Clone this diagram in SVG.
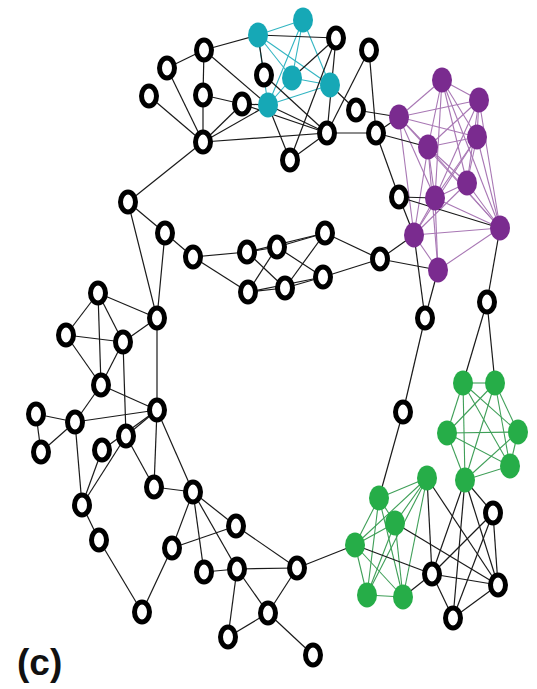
<svg xmlns="http://www.w3.org/2000/svg" width="537" height="689" viewBox="0 0 537 689">
<style>
.e{stroke:#1a1a1a;stroke-width:1.2;fill:none}
.ep{stroke:#a877b4;stroke-width:1.1}
.ec{stroke:#33b5c2;stroke-width:1.1}
.eg{stroke:#3f9f58;stroke-width:1.1}
.b{fill:#fff;stroke:#000;stroke-width:5}
.p{fill:#7a2b8f}
.c{fill:#16a8b6}
.g{fill:#26ad48}
.lab{font-family:"Liberation Sans",Arial,sans-serif;font-weight:bold;font-size:37px;fill:#111}
</style>
<rect width="537" height="689" fill="#fff"/>
<g id="edges">
<!-- cyan clique -->
<line class="ec" x1="258" y1="35" x2="303" y2="20"/><line class="ec" x1="258" y1="35" x2="292" y2="78"/><line class="ec" x1="258" y1="35" x2="330" y2="85"/><line class="ec" x1="258" y1="35" x2="268" y2="105"/>
<line class="ec" x1="303" y1="20" x2="292" y2="78"/><line class="ec" x1="303" y1="20" x2="330" y2="85"/><line class="ec" x1="303" y1="20" x2="268" y2="105"/>
<line class="ec" x1="292" y1="78" x2="330" y2="85"/><line class="ec" x1="292" y1="78" x2="268" y2="105"/><line class="ec" x1="330" y1="85" x2="268" y2="105"/>
<!-- purple -->
<line class="ep" x1="442" y1="80" x2="479" y2="100"/><line class="ep" x1="442" y1="80" x2="399" y2="117"/><line class="ep" x1="442" y1="80" x2="477" y2="137"/><line class="ep" x1="442" y1="80" x2="428" y2="147"/><line class="ep" x1="442" y1="80" x2="467" y2="183"/><line class="ep" x1="442" y1="80" x2="435" y2="198"/><line class="ep" x1="442" y1="80" x2="500" y2="228"/>
<line class="ep" x1="479" y1="100" x2="399" y2="117"/><line class="ep" x1="479" y1="100" x2="477" y2="137"/><line class="ep" x1="479" y1="100" x2="428" y2="147"/><line class="ep" x1="479" y1="100" x2="467" y2="183"/><line class="ep" x1="479" y1="100" x2="435" y2="198"/><line class="ep" x1="479" y1="100" x2="500" y2="228"/>
<line class="ep" x1="399" y1="117" x2="477" y2="137"/><line class="ep" x1="399" y1="117" x2="428" y2="147"/><line class="ep" x1="399" y1="117" x2="435" y2="198"/><line class="ep" x1="399" y1="117" x2="500" y2="228"/><line class="ep" x1="399" y1="117" x2="414" y2="235"/>
<line class="ep" x1="477" y1="137" x2="428" y2="147"/><line class="ep" x1="477" y1="137" x2="467" y2="183"/><line class="ep" x1="477" y1="137" x2="435" y2="198"/><line class="ep" x1="477" y1="137" x2="500" y2="228"/><line class="ep" x1="477" y1="137" x2="414" y2="235"/>
<line class="ep" x1="428" y1="147" x2="467" y2="183"/><line class="ep" x1="428" y1="147" x2="435" y2="198"/><line class="ep" x1="428" y1="147" x2="500" y2="228"/><line class="ep" x1="428" y1="147" x2="414" y2="235"/><line class="ep" x1="428" y1="147" x2="438" y2="270"/>
<line class="ep" x1="467" y1="183" x2="435" y2="198"/><line class="ep" x1="467" y1="183" x2="500" y2="228"/><line class="ep" x1="467" y1="183" x2="414" y2="235"/>
<line class="ep" x1="435" y1="198" x2="500" y2="228"/><line class="ep" x1="435" y1="198" x2="414" y2="235"/><line class="ep" x1="435" y1="198" x2="438" y2="270"/>
<line class="ep" x1="500" y1="228" x2="414" y2="235"/><line class="ep" x1="500" y1="228" x2="438" y2="270"/><line class="ep" x1="414" y1="235" x2="438" y2="270"/>
<!-- green upper -->
<line class="eg" x1="463" y1="383" x2="495" y2="383"/><line class="eg" x1="463" y1="383" x2="447" y2="433"/><line class="eg" x1="463" y1="383" x2="518" y2="432"/><line class="eg" x1="463" y1="383" x2="510" y2="466"/><line class="eg" x1="463" y1="383" x2="465" y2="480"/>
<line class="eg" x1="495" y1="383" x2="447" y2="433"/><line class="eg" x1="495" y1="383" x2="518" y2="432"/><line class="eg" x1="495" y1="383" x2="510" y2="466"/><line class="eg" x1="495" y1="383" x2="465" y2="480"/>
<line class="eg" x1="447" y1="433" x2="518" y2="432"/><line class="eg" x1="447" y1="433" x2="510" y2="466"/><line class="eg" x1="447" y1="433" x2="465" y2="480"/>
<line class="eg" x1="518" y1="432" x2="510" y2="466"/><line class="eg" x1="518" y1="432" x2="465" y2="480"/><line class="eg" x1="510" y1="466" x2="465" y2="480"/>
<!-- green lower -->
<line class="eg" x1="427" y1="478" x2="379" y2="498"/><line class="eg" x1="427" y1="478" x2="395" y2="523"/><line class="eg" x1="427" y1="478" x2="355" y2="545"/><line class="eg" x1="427" y1="478" x2="367" y2="595"/><line class="eg" x1="427" y1="478" x2="403" y2="597"/>
<line class="eg" x1="379" y1="498" x2="395" y2="523"/><line class="eg" x1="379" y1="498" x2="355" y2="545"/><line class="eg" x1="379" y1="498" x2="367" y2="595"/><line class="eg" x1="379" y1="498" x2="403" y2="597"/>
<line class="eg" x1="395" y1="523" x2="355" y2="545"/><line class="eg" x1="395" y1="523" x2="367" y2="595"/><line class="eg" x1="395" y1="523" x2="403" y2="597"/>
<line class="eg" x1="355" y1="545" x2="367" y2="595"/><line class="eg" x1="355" y1="545" x2="403" y2="597"/><line class="eg" x1="367" y1="595" x2="403" y2="597"/>
<!-- black edges: top left -->
<line class="e" x1="204" y1="50" x2="167" y2="68"/><line class="e" x1="204" y1="50" x2="203" y2="95"/><line class="e" x1="203" y1="95" x2="203" y2="142"/><line class="e" x1="203" y1="95" x2="242" y2="104"/><line class="e" x1="242" y1="104" x2="203" y2="142"/><line class="e" x1="167" y1="68" x2="203" y2="142"/><line class="e" x1="149" y1="96" x2="203" y2="142"/>
<line class="e" x1="204" y1="50" x2="258" y2="35"/><line class="e" x1="204" y1="50" x2="268" y2="105"/><line class="e" x1="203" y1="142" x2="128" y2="202"/><line class="e" x1="203" y1="142" x2="268" y2="105"/><line class="e" x1="242" y1="104" x2="268" y2="105"/><line class="e" x1="242" y1="104" x2="327" y2="133"/><line class="e" x1="203" y1="142" x2="327" y2="133"/>
<!-- top center -->
<line class="e" x1="258" y1="35" x2="336" y2="38"/><line class="e" x1="264" y1="75" x2="258" y2="35"/><line class="e" x1="264" y1="75" x2="327" y2="133"/><line class="e" x1="336" y1="38" x2="327" y2="133"/><line class="e" x1="336" y1="38" x2="292" y2="78"/><line class="e" x1="336" y1="38" x2="290" y2="160"/>
<line class="e" x1="369" y1="50" x2="376" y2="133"/><line class="e" x1="369" y1="50" x2="327" y2="133"/><line class="e" x1="356" y1="110" x2="330" y2="85"/><line class="e" x1="356" y1="110" x2="399" y2="117"/><line class="e" x1="327" y1="133" x2="376" y2="133"/><line class="e" x1="327" y1="133" x2="268" y2="105"/><line class="e" x1="327" y1="133" x2="290" y2="160"/><line class="e" x1="290" y1="160" x2="268" y2="105"/>
<line class="e" x1="376" y1="133" x2="399" y2="117"/><line class="e" x1="376" y1="133" x2="399" y2="197"/><line class="e" x1="376" y1="133" x2="428" y2="147"/>
<!-- to purple -->
<line class="e" x1="399" y1="197" x2="435" y2="198"/><line class="e" x1="399" y1="197" x2="500" y2="228"/><line class="e" x1="399" y1="197" x2="414" y2="235"/><line class="e" x1="380" y1="259" x2="414" y2="235"/><line class="e" x1="380" y1="259" x2="438" y2="270"/><line class="e" x1="425" y1="318" x2="414" y2="235"/><line class="e" x1="425" y1="318" x2="438" y2="270"/><line class="e" x1="487" y1="302" x2="500" y2="228"/>
<!-- middle -->
<line class="e" x1="128" y1="202" x2="165" y2="233"/><line class="e" x1="128" y1="202" x2="157" y2="318"/><line class="e" x1="165" y1="233" x2="193" y2="257"/><line class="e" x1="165" y1="233" x2="157" y2="318"/><line class="e" x1="193" y1="257" x2="247" y2="252"/><line class="e" x1="193" y1="257" x2="248" y2="292"/>
<line class="e" x1="247" y1="252" x2="277" y2="247"/><line class="e" x1="247" y1="252" x2="285" y2="288"/><line class="e" x1="277" y1="247" x2="248" y2="292"/><line class="e" x1="248" y1="292" x2="285" y2="288"/><line class="e" x1="277" y1="247" x2="325" y2="233"/><line class="e" x1="277" y1="247" x2="323" y2="277"/><line class="e" x1="285" y1="288" x2="325" y2="233"/><line class="e" x1="285" y1="288" x2="323" y2="277"/><line class="e" x1="247" y1="252" x2="325" y2="233"/><line class="e" x1="248" y1="292" x2="323" y2="277"/>
<line class="e" x1="325" y1="233" x2="380" y2="259"/><line class="e" x1="323" y1="277" x2="380" y2="259"/>
<!-- right -->
<line class="e" x1="425" y1="318" x2="403" y2="412"/><line class="e" x1="403" y1="412" x2="379" y2="498"/><line class="e" x1="487" y1="302" x2="463" y2="383"/><line class="e" x1="487" y1="302" x2="495" y2="383"/>
<!-- left cluster -->
<line class="e" x1="98" y1="293" x2="157" y2="318"/><line class="e" x1="98" y1="293" x2="66" y2="335"/><line class="e" x1="98" y1="293" x2="101" y2="385"/><line class="e" x1="98" y1="293" x2="123" y2="342"/><line class="e" x1="66" y1="335" x2="123" y2="342"/><line class="e" x1="66" y1="335" x2="101" y2="385"/><line class="e" x1="123" y1="342" x2="101" y2="385"/><line class="e" x1="123" y1="342" x2="157" y2="318"/><line class="e" x1="123" y1="342" x2="126" y2="436"/>
<line class="e" x1="157" y1="318" x2="157" y2="410"/><line class="e" x1="101" y1="385" x2="157" y2="410"/><line class="e" x1="101" y1="385" x2="75" y2="422"/><line class="e" x1="75" y1="422" x2="36" y2="414"/><line class="e" x1="75" y1="422" x2="41" y2="452"/><line class="e" x1="36" y1="414" x2="41" y2="452"/><line class="e" x1="75" y1="422" x2="157" y2="410"/><line class="e" x1="126" y1="436" x2="157" y2="410"/><line class="e" x1="157" y1="410" x2="102" y2="450"/>
<line class="e" x1="75" y1="422" x2="82" y2="505"/><line class="e" x1="102" y1="450" x2="82" y2="505"/><line class="e" x1="126" y1="436" x2="82" y2="505"/><line class="e" x1="157" y1="410" x2="154" y2="487"/><line class="e" x1="126" y1="436" x2="154" y2="487"/><line class="e" x1="157" y1="410" x2="193" y2="492"/><line class="e" x1="154" y1="487" x2="193" y2="492"/>
<!-- lower -->
<line class="e" x1="82" y1="505" x2="99" y2="540"/><line class="e" x1="99" y1="540" x2="142" y2="612"/><line class="e" x1="172" y1="548" x2="142" y2="612"/><line class="e" x1="193" y1="492" x2="172" y2="548"/><line class="e" x1="193" y1="492" x2="236" y2="526"/><line class="e" x1="193" y1="492" x2="204" y2="572"/><line class="e" x1="193" y1="492" x2="237" y2="569"/><line class="e" x1="172" y1="548" x2="236" y2="526"/><line class="e" x1="204" y1="572" x2="237" y2="569"/>
<line class="e" x1="237" y1="569" x2="228" y2="637"/><line class="e" x1="237" y1="569" x2="297" y2="568"/><line class="e" x1="236" y1="526" x2="297" y2="568"/><line class="e" x1="237" y1="569" x2="268" y2="613"/><line class="e" x1="268" y1="613" x2="228" y2="637"/><line class="e" x1="268" y1="613" x2="297" y2="568"/><line class="e" x1="268" y1="613" x2="313" y2="655"/><line class="e" x1="297" y1="568" x2="355" y2="545"/>
<!-- lower right -->
<line class="e" x1="427" y1="478" x2="498" y2="585"/><line class="e" x1="427" y1="478" x2="432" y2="574"/><line class="e" x1="465" y1="480" x2="432" y2="574"/><line class="e" x1="465" y1="480" x2="453" y2="618"/><line class="e" x1="465" y1="480" x2="493" y2="513"/><line class="e" x1="465" y1="480" x2="498" y2="585"/>
<line class="e" x1="493" y1="513" x2="432" y2="574"/><line class="e" x1="493" y1="513" x2="498" y2="585"/><line class="e" x1="493" y1="513" x2="453" y2="618"/><line class="e" x1="432" y1="574" x2="498" y2="585"/><line class="e" x1="432" y1="574" x2="453" y2="618"/><line class="e" x1="498" y1="585" x2="453" y2="618"/>
<line class="e" x1="395" y1="523" x2="498" y2="585"/><line class="e" x1="355" y1="545" x2="432" y2="574"/><line class="e" x1="403" y1="597" x2="432" y2="574"/>
</g>
<g id="n1"><ellipse class="b" cx="204" cy="50" rx="7.5" ry="10"/></g>
<g id="n2"><ellipse class="b" cx="167" cy="68" rx="7.5" ry="10"/></g>
<g id="n3"><ellipse class="b" cx="149" cy="96" rx="7.5" ry="10"/></g>
<g id="n4"><ellipse class="b" cx="203" cy="95" rx="7.5" ry="10"/></g>
<g id="n5"><ellipse class="b" cx="242" cy="104" rx="7.5" ry="10"/></g>
<g id="n6"><ellipse class="b" cx="203" cy="142" rx="7.5" ry="10"/></g>
<g id="n7"><ellipse class="b" cx="264" cy="75" rx="7.5" ry="10"/></g>
<g id="n8"><ellipse class="b" cx="336" cy="38" rx="7.5" ry="10"/></g>
<g id="n9"><ellipse class="b" cx="369" cy="50" rx="7.5" ry="10"/></g>
<g id="n10"><ellipse class="b" cx="356" cy="110" rx="7.5" ry="10"/></g>
<g id="n11"><ellipse class="b" cx="327" cy="133" rx="7.5" ry="10"/></g>
<g id="n12"><ellipse class="b" cx="376" cy="133" rx="7.5" ry="10"/></g>
<g id="n13"><ellipse class="b" cx="290" cy="160" rx="7.5" ry="10"/></g>
<g id="n14"><ellipse class="b" cx="128" cy="202" rx="7.5" ry="10"/></g>
<g id="n15"><ellipse class="b" cx="165" cy="233" rx="7.5" ry="10"/></g>
<g id="n16"><ellipse class="b" cx="193" cy="257" rx="7.5" ry="10"/></g>
<g id="n17"><ellipse class="b" cx="247" cy="252" rx="7.5" ry="10"/></g>
<g id="n18"><ellipse class="b" cx="277" cy="247" rx="7.5" ry="10"/></g>
<g id="n19"><ellipse class="b" cx="325" cy="233" rx="7.5" ry="10"/></g>
<g id="n20"><ellipse class="b" cx="248" cy="292" rx="7.5" ry="10"/></g>
<g id="n21"><ellipse class="b" cx="285" cy="288" rx="7.5" ry="10"/></g>
<g id="n22"><ellipse class="b" cx="323" cy="277" rx="7.5" ry="10"/></g>
<g id="n23"><ellipse class="b" cx="380" cy="259" rx="7.5" ry="10"/></g>
<g id="n24"><ellipse class="b" cx="399" cy="197" rx="7.5" ry="10"/></g>
<g id="n25"><ellipse class="b" cx="425" cy="318" rx="7.5" ry="10"/></g>
<g id="n26"><ellipse class="b" cx="487" cy="302" rx="7.5" ry="10"/></g>
<g id="n27"><ellipse class="b" cx="403" cy="412" rx="7.5" ry="10"/></g>
<g id="n28"><ellipse class="b" cx="98" cy="293" rx="7.5" ry="10"/></g>
<g id="n29"><ellipse class="b" cx="157" cy="318" rx="7.5" ry="10"/></g>
<g id="n30"><ellipse class="b" cx="66" cy="335" rx="7.5" ry="10"/></g>
<g id="n31"><ellipse class="b" cx="123" cy="342" rx="7.5" ry="10"/></g>
<g id="n32"><ellipse class="b" cx="101" cy="385" rx="7.5" ry="10"/></g>
<g id="n33"><ellipse class="b" cx="157" cy="410" rx="7.5" ry="10"/></g>
<g id="n34"><ellipse class="b" cx="36" cy="414" rx="7.5" ry="10"/></g>
<g id="n35"><ellipse class="b" cx="75" cy="422" rx="7.5" ry="10"/></g>
<g id="n36"><ellipse class="b" cx="41" cy="452" rx="7.5" ry="10"/></g>
<g id="n37"><ellipse class="b" cx="126" cy="436" rx="7.5" ry="10"/></g>
<g id="n38"><ellipse class="b" cx="102" cy="450" rx="7.5" ry="10"/></g>
<g id="n39"><ellipse class="b" cx="82" cy="505" rx="7.5" ry="10"/></g>
<g id="n40"><ellipse class="b" cx="154" cy="487" rx="7.5" ry="10"/></g>
<g id="n41"><ellipse class="b" cx="193" cy="492" rx="7.5" ry="10"/></g>
<g id="n42"><ellipse class="b" cx="99" cy="540" rx="7.5" ry="10"/></g>
<g id="n43"><ellipse class="b" cx="172" cy="548" rx="7.5" ry="10"/></g>
<g id="n44"><ellipse class="b" cx="236" cy="526" rx="7.5" ry="10"/></g>
<g id="n45"><ellipse class="b" cx="204" cy="572" rx="7.5" ry="10"/></g>
<g id="n46"><ellipse class="b" cx="237" cy="569" rx="7.5" ry="10"/></g>
<g id="n47"><ellipse class="b" cx="297" cy="568" rx="7.5" ry="10"/></g>
<g id="n48"><ellipse class="b" cx="142" cy="612" rx="7.5" ry="10"/></g>
<g id="n49"><ellipse class="b" cx="268" cy="613" rx="7.5" ry="10"/></g>
<g id="n50"><ellipse class="b" cx="228" cy="637" rx="7.5" ry="10"/></g>
<g id="n51"><ellipse class="b" cx="313" cy="655" rx="7.5" ry="10"/></g>
<g id="n52"><ellipse class="b" cx="493" cy="513" rx="7.5" ry="10"/></g>
<g id="n53"><ellipse class="b" cx="432" cy="574" rx="7.5" ry="10"/></g>
<g id="n54"><ellipse class="b" cx="498" cy="585" rx="7.5" ry="10"/></g>
<g id="n55"><ellipse class="b" cx="453" cy="618" rx="7.5" ry="10"/></g>
<g id="c1"><ellipse class="c" cx="258" cy="35" rx="10" ry="12.5"/></g>
<g id="c2"><ellipse class="c" cx="303" cy="20" rx="10" ry="12.5"/></g>
<g id="c3"><ellipse class="c" cx="292" cy="78" rx="10" ry="12.5"/></g>
<g id="c4"><ellipse class="c" cx="330" cy="85" rx="10" ry="12.5"/></g>
<g id="c5"><ellipse class="c" cx="268" cy="105" rx="10" ry="12.5"/></g>
<g id="p1"><ellipse class="p" cx="442" cy="80" rx="10" ry="12.5"/></g>
<g id="p2"><ellipse class="p" cx="479" cy="100" rx="10" ry="12.5"/></g>
<g id="p3"><ellipse class="p" cx="399" cy="117" rx="10" ry="12.5"/></g>
<g id="p4"><ellipse class="p" cx="477" cy="137" rx="10" ry="12.5"/></g>
<g id="p5"><ellipse class="p" cx="428" cy="147" rx="10" ry="12.5"/></g>
<g id="p6"><ellipse class="p" cx="467" cy="183" rx="10" ry="12.5"/></g>
<g id="p7"><ellipse class="p" cx="435" cy="198" rx="10" ry="12.5"/></g>
<g id="p8"><ellipse class="p" cx="500" cy="228" rx="10" ry="12.5"/></g>
<g id="p9"><ellipse class="p" cx="414" cy="235" rx="10" ry="12.5"/></g>
<g id="p10"><ellipse class="p" cx="438" cy="270" rx="10" ry="12.5"/></g>
<g id="g1"><ellipse class="g" cx="463" cy="383" rx="10" ry="12.5"/></g>
<g id="g2"><ellipse class="g" cx="495" cy="383" rx="10" ry="12.5"/></g>
<g id="g3"><ellipse class="g" cx="447" cy="433" rx="10" ry="12.5"/></g>
<g id="g4"><ellipse class="g" cx="518" cy="432" rx="10" ry="12.5"/></g>
<g id="g5"><ellipse class="g" cx="510" cy="466" rx="10" ry="12.5"/></g>
<g id="g6"><ellipse class="g" cx="465" cy="480" rx="10" ry="12.5"/></g>
<g id="h1"><ellipse class="g" cx="427" cy="478" rx="10" ry="12.5"/></g>
<g id="h2"><ellipse class="g" cx="379" cy="498" rx="10" ry="12.5"/></g>
<g id="h3"><ellipse class="g" cx="395" cy="523" rx="10" ry="12.5"/></g>
<g id="h4"><ellipse class="g" cx="355" cy="545" rx="10" ry="12.5"/></g>
<g id="h5"><ellipse class="g" cx="367" cy="595" rx="10" ry="12.5"/></g>
<g id="h6"><ellipse class="g" cx="403" cy="597" rx="10" ry="12.5"/></g>
<text class="lab" x="17" y="675">(c)</text>
</svg>
